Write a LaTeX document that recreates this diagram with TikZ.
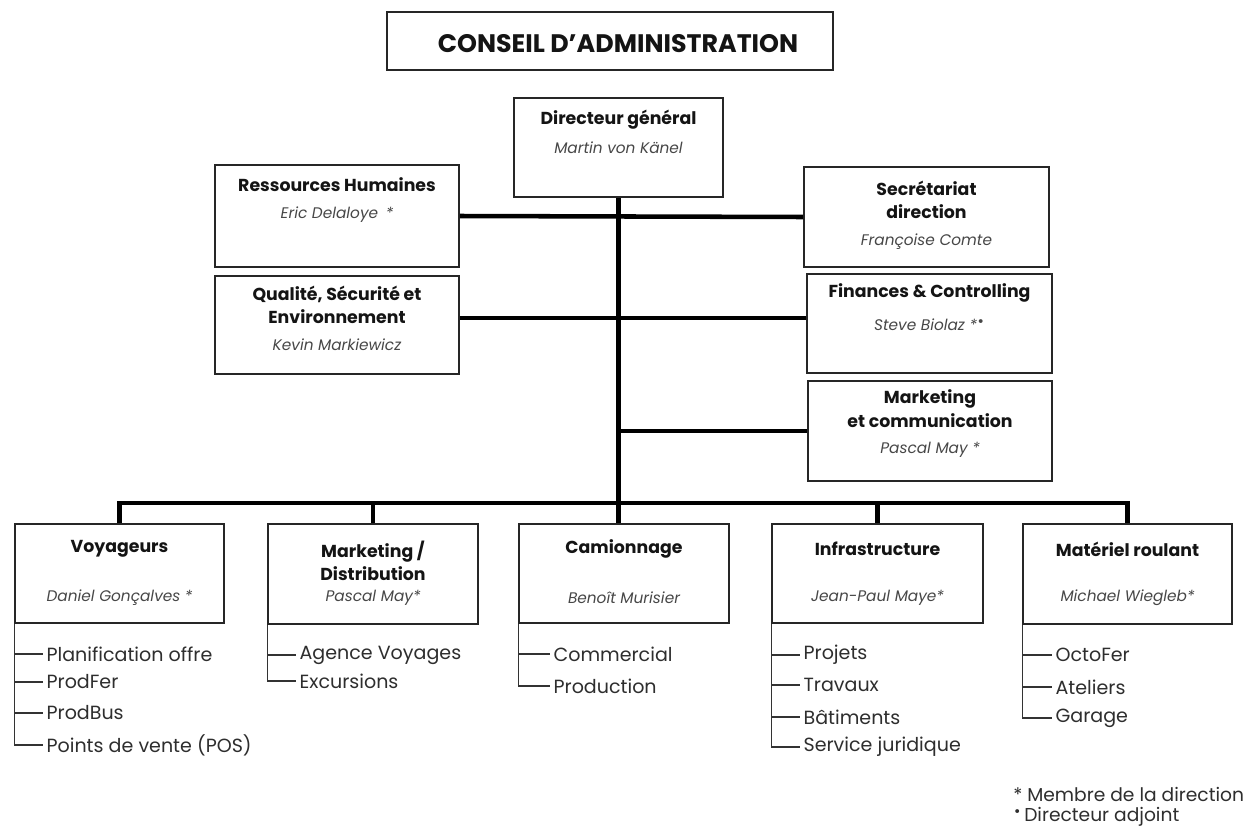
\documentclass[tikz,border=0pt]{standalone}
\usepackage{fontspec}
\setmainfont{Poppins}
\newfontfamily\symfont{DejaVu Sans}
\usetikzlibrary{fit,calc}
\newcommand\hibullet{\raisebox{0.5ex}{\symfont\fontsize{10}{10}\selectfont •}}
\begin{document}
\begin{tikzpicture}[x=0.75pt,y=-0.75pt,
  box/.style={draw=black!85, line width=1.3pt, inner sep=0pt, fill=white},
  ttl/.style={font=\fontsize{13}{17.5}\selectfont\bfseries, align=center, text=black!92, inner sep=0pt},
  nm/.style={font=\fontsize{11.5}{14}\selectfont\itshape, text=black!72, inner sep=0pt},
  sub/.style={font=\fontsize{14.3}{16}\selectfont, text=black!82, anchor=west, inner sep=0pt, inner xsep=2.5pt},
  conn/.style={line width=3.4pt, black, line join=miter},
  thin/.style={line width=0.8pt, black!80},
  leg/.style={font=\fontsize{14}{16}\selectfont, text=black!82, anchor=west, inner sep=0pt}]
\fill[white] (0,0) rectangle (1260,832);
\useasboundingbox (0,0) rectangle (1260,832);

% top
\node[box, fit={(387,12)(833,70)}] (ca) {};
\node[ttl, font=\fontsize{19}{22}\selectfont\bfseries] (cat) at (618,44) {CONSEIL D’ADMINISTRATION};

\node[box, fit={(514,98)(723,197)}] (dg) {};
\node[ttl] (dgt) at (618.5,120) {Directeur général};
\node[nm] (dgn) at (618.5,148) {Martin von Känel};

% left staff
\node[box, fit={(215,165)(459,267)}] (rh) {};
\node[ttl] (rht) at (337,185) {Ressources Humaines};
\node[nm] (rhn) at (337,215) {Eric Delaloye\enspace*};

\node[box, fit={(215,276)(459,374)}] (qse) {};
\node[ttl] (qset) at (337,305) {Qualité, Sécurité et\\Environnement};
\node[nm] (qsen) at (337,345) {Kevin Markiewicz};

% right staff
\node[box, fit={(804,167)(1049,267)}] (sec) {};
\node[ttl] (sect) at (926.5,200) {Secrétariat\\direction};
\node[nm] (secn) at (926.5,242) {Françoise Comte};

\node[box, fit={(807,274)(1052,373)}] (fin) {};
\node[ttl] (fint) at (929.5,293) {Finances \& Controlling};
\node[nm] (finn) at (929.5,325) {Steve Biolaz *\hibullet};

\node[box, fit={(808,381)(1052,481)}] (mc) {};
\node[ttl] (mct) at (930,408.5) {Marketing\\et communication};
\node[nm] (mcn) at (930,450) {Pascal May *};

% divisions
\node[box, fit={(15,524)(224,623)}] (vo) {};
\node[ttl] (vot) at (119.5,549) {Voyageurs};
\node[nm] (von) at (119.5,598) {Daniel Gonçalves *};

\node[box, fit={(268,524)(478,624)}] (md) {};
\node[ttl] (mdt) at (373,561) {Marketing /\\Distribution};
\node[nm] (mdn) at (373,598) {Pascal May*};

\node[box, fit={(519,524)(729,623)}] (cam) {};
\node[ttl] (camt) at (624,549) {Camionnage};
\node[nm] (camn) at (624,598) {Benoît Murisier};

\node[box, fit={(772,524)(983,623)}] (inf) {};
\node[ttl] (inft) at (877.5,549) {Infrastructure};
\node[nm] (infn) at (877.5,598) {Jean-Paul Maye*};

\node[box, fit={(1023,524)(1232,624)}] (mr) {};
\node[ttl] (mrt) at (1127.5,549) {Matériel roulant};
\node[nm] (mrn) at (1127.5,598) {Michael Wiegleb*};

% sub items
\node[sub] (vo1) at (43,654) {Planification offre};
\node[sub] (vo2) at (43,682) {ProdFer};
\node[sub] (vo3) at (43,713) {ProdBus};
\node[sub] (vo4) at (43,745) {Points de vente (POS)};

\node[sub] (md1) at (296,655) {Agence Voyages};
\node[sub] (md2) at (296,681) {Excursions};

\node[sub] (cam1) at (550,654) {Commercial};
\node[sub] (cam2) at (550,686) {Production};

\node[sub] (inf1) at (800,655) {Projets};
\node[sub] (inf2) at (800,685) {Travaux};
\node[sub] (inf3) at (800,717) {Bâtiments};
\node[sub] (inf4) at (800,747) {Service juridique};

\node[sub] (mr1) at (1052,655) {OctoFer};
\node[sub] (mr2) at (1052,687) {Ateliers};
\node[sub] (mr3) at (1052,718) {Garage};

\draw[thin] (vo.south west) |- (vo4.west);
\foreach \s in {vo1,vo2,vo3} \draw[thin] (vo.south west |- \s.west) -- (\s.west);
\draw[thin] (md.south west) |- (md2.west);
\draw[thin] (md.south west |- md1.west) -- (md1.west);
\draw[thin] (cam.south west) |- (cam2.west);
\draw[thin] (cam.south west |- cam1.west) -- (cam1.west);
\draw[thin] (inf.south west) |- (inf4.west);
\foreach \s in {inf1,inf2,inf3} \draw[thin] (inf.south west |- \s.west) -- (\s.west);
\draw[thin] (mr.south west) |- (mr3.west);
\foreach \s in {mr1,mr2} \draw[thin] (mr.south west |- \s.west) -- (\s.west);

% connectors
\coordinate (bar) at (617,503);
\draw[conn] (dg.south) -- (dg.south |- cam.north);
\draw[conn] (vo.north) -- (vo.north |- bar) -- (mr.north |- bar) -- (mr.north);
\draw[conn] (md.north |- bar) -- (md.north);
\draw[conn] (inf.north |- bar) -- (inf.north);
\draw[conn] (rh.east) -- (sec.west);
\coordinate (qj) at ($(qse.east)+(0,-7)$);
\draw[conn] (qj) -- (qj -| fin.west);
\draw[conn] (dg.south |- mc.west) -- (mc.west);

% legend
\node[leg] (l1) at (1013,794) {* Membre de la direction};
\node[leg] (l2) at (1013,817) {\hibullet\,Directeur adjoint};
\end{tikzpicture}
\end{document}
